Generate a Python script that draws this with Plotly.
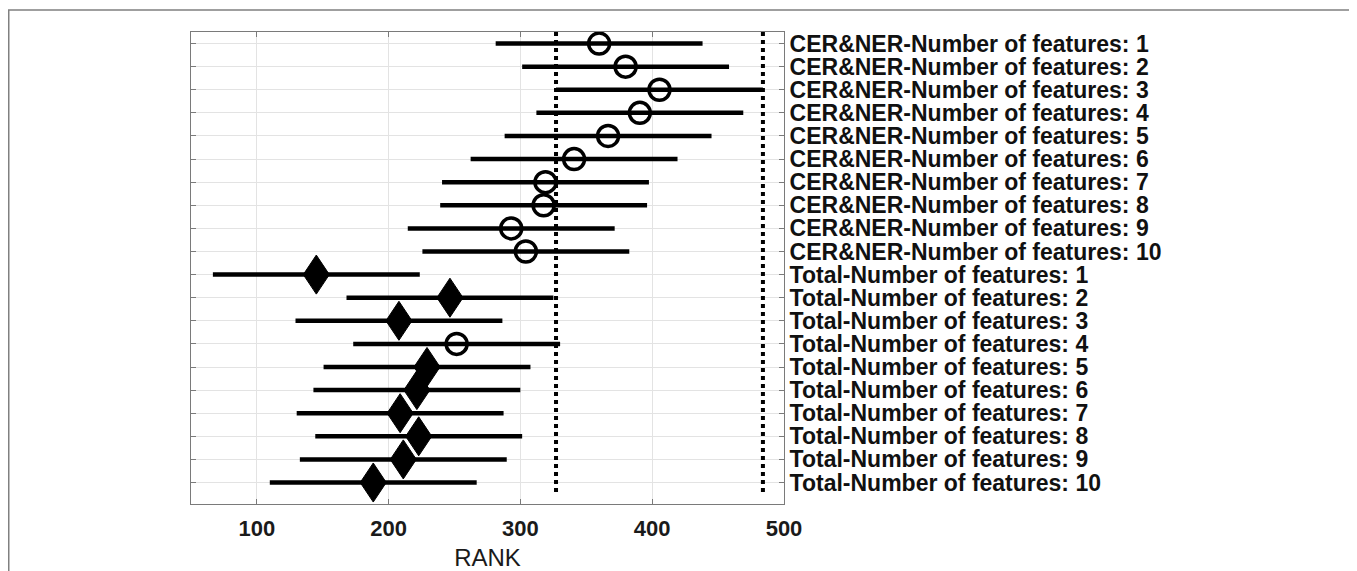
import plotly.graph_objects as go

labels = [f"CER&NER-Number of features: {i}" for i in range(1, 11)] + \
         [f"Total-Number of features: {i}" for i in range(1, 11)]

means = [359.7, 379.8, 405.5, 390.6, 366.5, 340.7, 319.0, 317.6, 293.0, 304.1,
         145.1, 246.5, 207.8, 251.6, 229.1, 221.4, 208.7, 222.8, 211.1, 188.3]
lower = [281.2, 301.3, 327.0, 312.1, 288.0, 262.2, 240.5, 239.1, 214.5, 225.6,
         66.6, 168.0, 129.3, 173.1, 150.6, 142.9, 130.2, 144.3, 132.6, 109.8]
upper = [438.2, 458.3, 484.0, 469.1, 445.0, 419.2, 397.5, 396.1, 371.5, 382.6,
         223.6, 325.0, 286.3, 330.1, 307.6, 299.9, 287.2, 301.3, 289.6, 266.8]
selected = 2  # index of the highlighted group (CER&NER-3)

x_ticks = [100, 200, 300, 400, 500]

FONT = "Liberation Sans, Arial, sans-serif"
BLACK = "#000000"

rows = list(range(1, len(labels) + 1))
sel_lo, sel_hi = lower[selected], upper[selected]

fig = go.Figure()

# interval bars
bx, by = [], []
for r, lo, hi in zip(rows, lower, upper):
    bx += [lo, hi, None]
    by += [r, r, None]
fig.add_trace(go.Scatter(x=bx, y=by, mode="lines",
                         line=dict(color=BLACK, width=4.5),
                         hoverinfo="skip", showlegend=False))

# dotted reference lines at the selected group's bounds
for xv in (sel_lo, sel_hi):
    fig.add_trace(go.Scatter(x=[xv, xv], y=[0.5, len(labels) + 0.5], mode="lines",
                             line=dict(color=BLACK, width=4, dash="dot"),
                             hoverinfo="skip", showlegend=False))

# markers: circle if overlapping the selected interval, diamond otherwise
DX, DY = 9.9, 0.845
cx, cy = [], []
for r, m, lo, hi in zip(rows, means, lower, upper):
    overlap = (lo <= sel_hi) and (hi >= sel_lo)
    if overlap:
        cx.append(m)
        cy.append(r)
    else:
        fig.add_trace(go.Scatter(
            x=[m - DX, m, m + DX, m, m - DX],
            y=[r, r - DY, r, r + DY, r],
            mode="lines", fill="toself", fillcolor=BLACK,
            line=dict(color=BLACK, width=1), hoverinfo="skip", showlegend=False))

fig.add_trace(go.Scatter(x=cx, y=cy, mode="markers",
                         marker=dict(symbol="circle-open", size=21,
                                     color=BLACK, line=dict(width=3.5, color=BLACK)),
                         hoverinfo="skip", showlegend=False))

W, H = 1349, 563
L, T, PW, PH = 183, 24, 593, 472
fig.update_layout(
    width=W, height=H,
    margin=dict(l=L, r=W - L - PW, t=T, b=H - T - PH, autoexpand=False),
    paper_bgcolor="white", plot_bgcolor="white",
    font=dict(family=FONT, color=BLACK),
    showlegend=False,
)

fig.update_xaxes(
    range=[50, 500], tickvals=x_ticks, ticktext=[str(v) for v in x_ticks],
    showgrid=True, gridcolor="#e3e3e3", gridwidth=1,
    showline=True, linecolor="#7a7a7a", linewidth=1, mirror="ticks",
    ticks="inside", ticklen=5, tickcolor="#7a7a7a",
    tickfont=dict(size=22, family=FONT, color="#1a1a1a", weight="bold"),
    ticklabelstandoff=5,
    title=dict(text="RANK", font=dict(size=24, family=FONT, color="#1a1a1a"), standoff=18),
    zeroline=False,
)

fig.update_yaxes(
    range=[20.93, 0.5], tickvals=rows, ticktext=labels, side="right",
    showgrid=True, gridcolor="#e3e3e3", gridwidth=1,
    showline=True, linecolor="#7a7a7a", linewidth=1, mirror="ticks",
    ticks="inside", ticklen=5, tickcolor="#7a7a7a",
    tickfont=dict(size=23, family=FONT, color="#111111", weight="bold"),
    ticklabelstandoff=0,
    zeroline=False,
)

# outer figure frame (open at the bottom, as cropped in the original)
fig.add_shape(type="rect", xref="paper", yref="paper",
              x0=(0.75 - L) / PW, x1=(W - 2 - L) / PW,
              y0=-0.3, y1=1 + (T - 2) / PH,
              line=dict(color="#808080", width=1.5), fillcolor="rgba(0,0,0,0)", layer="below")

fig.write_html("out.html")
